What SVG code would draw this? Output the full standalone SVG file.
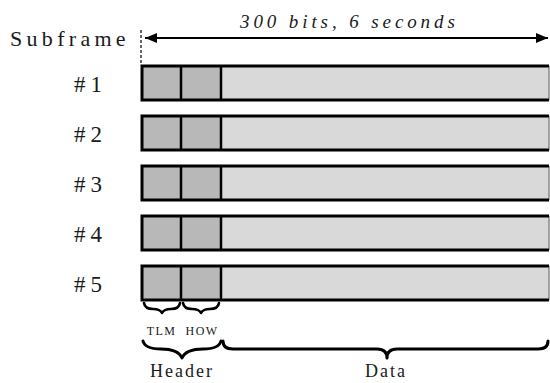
<svg xmlns="http://www.w3.org/2000/svg" width="550" height="383" viewBox="0 0 550 383">
  <style>
    .lbl { font-family: "Liberation Serif", "Times New Roman", serif; fill: #1a1a1a; }
    .num { font-size: 23px; letter-spacing: 5px; }
    .hdr { fill: #b8b8b8; }
    .dat { fill: #d9d9d9; }
    .frame { fill: none; stroke: #000; stroke-width: 3; }
    .div { stroke: #000; stroke-width: 2.5; }
    .edge { stroke: #8a8a8a; stroke-width: 1.5; }
    .brace { fill: none; stroke: #000; stroke-linejoin: round; stroke-linecap: round; }
  </style>
  <defs>
    <marker id="arr" viewBox="0 0 12 10" refX="12" refY="5" markerWidth="12" markerHeight="10" markerUnits="userSpaceOnUse" orient="auto-start-reverse">
      <path d="M0,0 L12,5 L0,10 Z" fill="#000"/>
    </marker>
    <!-- one subframe row: TLM cell, HOW cell, data field -->
    <g id="row">
      <rect class="hdr" x="142" y="0" width="39" height="34"/>
      <rect class="hdr" x="181" y="0" width="40" height="34"/>
      <rect class="dat" x="221" y="0" width="328" height="34"/>
      <line class="edge" x1="549" y1="0" x2="549" y2="34"/>
      <path class="frame" d="M549,0 H142 V34 H549"/>
      <line class="div" x1="181" y1="0" x2="181" y2="34"/>
      <line class="div" x1="221" y1="0" x2="221" y2="34"/>
    </g>
  </defs>

  <!-- title and span arrow -->
  <text class="lbl" x="10" y="46" font-size="22" letter-spacing="4.3">Subframe</text>
  <text class="lbl" x="240" y="28" font-size="19" font-style="italic" letter-spacing="3.9">300 bits, 6 seconds</text>

  <g id="connectors">
    <line x1="141" y1="30" x2="141" y2="64" stroke="#000" stroke-width="1.2" stroke-dasharray="3,2"/>
    <line x1="145" y1="38" x2="548" y2="38" stroke="#000" stroke-width="2" marker-start="url(#arr)" marker-end="url(#arr)"/>
  </g>

  <!-- subframes -->
  <g id="subframe1">
    <text class="lbl num" x="74" y="92">#1</text>
    <use href="#row" y="66"/>
  </g>
  <g id="subframe2">
    <text class="lbl num" x="74" y="142">#2</text>
    <use href="#row" y="116"/>
  </g>
  <g id="subframe3">
    <text class="lbl num" x="74" y="192">#3</text>
    <use href="#row" y="166"/>
  </g>
  <g id="subframe4">
    <text class="lbl num" x="74" y="242">#4</text>
    <use href="#row" y="216"/>
  </g>
  <g id="subframe5">
    <text class="lbl num" x="74" y="292">#5</text>
    <use href="#row" y="266"/>
  </g>

  <!-- field braces -->
  <g id="tlm">
    <path class="brace" stroke-width="2.6" d="M144,303 Q145,309 153,309 Q160,309 162,313 Q164,309 171,309 Q179,309 180,303"/>
    <text class="lbl" x="161.5" y="335" font-size="12" letter-spacing="1.4" text-anchor="middle">TLM</text>
  </g>
  <g id="how">
    <path class="brace" stroke-width="2.6" d="M183,303 Q184,309 192,309 Q199,309 201,313 Q203,309 210,309 Q218,309 219,303"/>
    <text class="lbl" x="202" y="335" font-size="12" letter-spacing="1.4" text-anchor="middle">HOW</text>
  </g>
  <g id="header">
    <path class="brace" stroke-width="3" d="M143,341 Q145,349 161,349 Q178,349 182,358 Q186,349 203,349 Q219,349 221,341"/>
    <text class="lbl" x="182" y="377" font-size="18" letter-spacing="2" text-anchor="middle">Header</text>
  </g>
  <g id="data">
    <path class="brace" stroke-width="3" d="M223,341 Q223,349 233,349 L377,349 Q387,349 387,358 Q387,349 397,349 L538,349 Q548,349 548,341"/>
    <text class="lbl" x="386" y="377" font-size="18" letter-spacing="2" text-anchor="middle">Data</text>
  </g>
</svg>
